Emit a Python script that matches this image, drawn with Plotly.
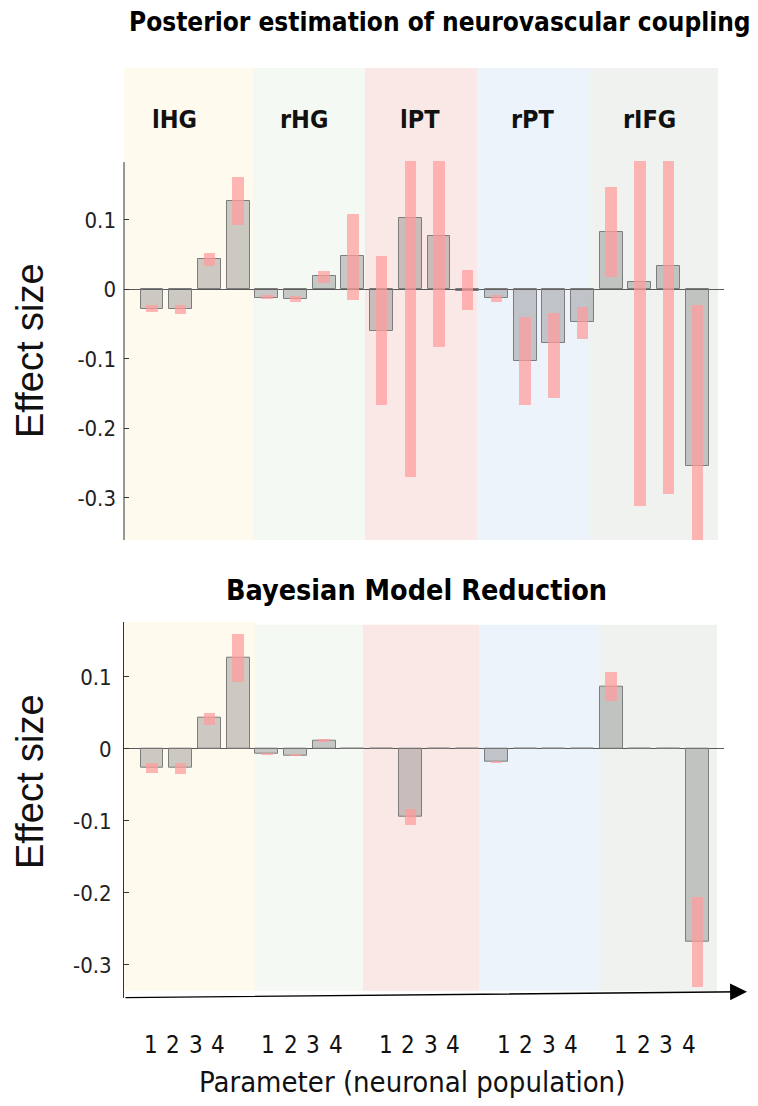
import plotly.graph_objects as go

# ---------------- data ----------------
regions = ["lHG", "rHG", "lPT", "rPT", "rIFG"]
param_labels = ["1", "2", "3", "4"]

# Posterior estimates (top) - bar heights and credible interval bounds
post_mean = [-0.028, -0.028, 0.043, 0.127,
             -0.012, -0.014, 0.019, 0.048,
             -0.060, 0.103, 0.077, -0.002,
             -0.013, -0.103, -0.077, -0.047,
             0.082, 0.010, 0.033, -0.254]
post_hi = [-0.023, -0.023, 0.052, 0.162,
           -0.008, -0.010, 0.026, 0.109,
           0.048, 0.184, 0.184, 0.028,
           -0.008, -0.040, -0.034, -0.025,
           0.147, 0.184, 0.184, -0.022]
post_lo = [-0.033, -0.035, 0.033, 0.093,
           -0.014, -0.018, 0.009, -0.015,
           -0.166, -0.270, -0.083, -0.030,
           -0.018, -0.167, -0.156, -0.071,
           0.018, -0.312, -0.294, -0.360]

# Bayesian model reduction (bottom)
bmr_mean = [-0.026, -0.026, 0.043, 0.127,
            -0.0065, -0.009, 0.012, 0.0,
            0.0, -0.0945, 0.0, 0.0,
            -0.018, 0.0, 0.0, 0.0,
            0.087, 0.0, 0.0, -0.268]
bmr_hi = [-0.019, -0.019, 0.050, 0.160,
          -0.005, -0.006, 0.014, 0.0,
          0.0, -0.083, 0.0, 0.0,
          -0.016, 0.0, 0.0, 0.0,
          0.107, 0.0, 0.0, -0.205]
bmr_lo = [-0.0325, -0.034, 0.034, 0.093,
          -0.008, -0.010, 0.010, 0.0,
          0.0, -0.105, 0.0, 0.0,
          -0.0195, 0.0, 0.0, 0.0,
          0.0675, 0.0, 0.0, -0.330]

y_ticks = [0.1, 0, -0.1, -0.2, -0.3]
y_tick_text = ["0.1", "0", "-0.1", "-0.2", "-0.3"]

region_colors = ["#FEFAEE", "#F5F9F3", "#FAE8E6", "#EDF3FA", "#EFF2EE"]

# ---------------- styling ----------------
NARROW = "DejaVu Sans Condensed, Liberation Sans Narrow, Arial Narrow, Liberation Sans"
REG = "Liberation Sans, Arial"
OFF = 8  # page body margin
W, H = 758 - OFF, 1106 - OFF
XR = [-0.976, 19.93]
TOP_YR = [-0.3607, 0.3184]
BOT_YR = [-0.3457, 0.1768]

def px(p):  # pixel column (screen) -> paper x
    return (p - OFF) / W

def py(p):  # pixel row (screen) -> paper y
    return 1 - (p - OFF) / H

x = list(range(len(post_mean)))
bar_fill = "rgba(110,110,110,0.35)"
bar_line = "rgb(125,125,125)"
ci_fill = "rgba(255,155,155,0.72)"

fig = go.Figure()

def add_panel(means, lo, hi, xa, ya):
    fig.add_trace(go.Bar(x=x, y=means, width=0.8, marker=dict(color=bar_fill,
                  line=dict(color=bar_line, width=1)), xaxis=xa, yaxis=ya,
                  showlegend=False, hoverinfo="skip"))
    fig.add_trace(go.Bar(x=x, y=[h - l for h, l in zip(hi, lo)], base=lo, width=0.4,
                  marker=dict(color=ci_fill, line=dict(width=0)), xaxis=xa, yaxis=ya,
                  showlegend=False, hoverinfo="skip"))

add_panel(post_mean, post_lo, post_hi, "x", "y")
add_panel(bmr_mean, bmr_lo, bmr_hi, "x2", "y2")

xdom = [px(124), px(724)]
common_x = dict(range=XR, showgrid=False, zeroline=False, showticklabels=False,
                ticks="", showline=False, fixedrange=True)
common_y = dict(showgrid=False, zeroline=True, zerolinecolor="#5a5a5a", zerolinewidth=1,
                tickvals=y_ticks, ticktext=y_tick_text, ticks="inside", ticklen=5,
                tickcolor="#333", tickfont=dict(family=NARROW, size=22, color="#222"),
                ticklabelstandoff=7)

fig.update_layout(
    width=W, height=H, margin=dict(l=0, r=0, t=0, b=0),
    paper_bgcolor="white", plot_bgcolor="rgba(0,0,0,0)",
    barmode="overlay", bargap=0,
    xaxis=dict(domain=xdom, anchor="y", **common_x),
    yaxis=dict(domain=[py(540), py(68)], range=TOP_YR, anchor="x", showline=False, **common_y),
    xaxis2=dict(domain=xdom, anchor="y2", **common_x),
    yaxis2=dict(domain=[py(997.7), py(621.7)], range=BOT_YR, anchor="x2", showline=True,
                linecolor="#333", linewidth=1, **common_y),
)

# region backgrounds
top_bounds = [-0.976, 3.519, 7.422, 11.324, 15.261, 19.721]
bot_bounds = [-0.976, 3.589, 7.352, 11.394, 15.61, 19.686]
shapes = []
for i, c in enumerate(region_colors):
    shapes.append(dict(type="rect", xref="x", yref="y", x0=top_bounds[i], x1=top_bounds[i + 1],
                       y0=TOP_YR[0], y1=TOP_YR[1], fillcolor=c, line=dict(width=0), layer="below"))
    shapes.append(dict(type="rect", xref="x2", yref="y2", x0=bot_bounds[i], x1=bot_bounds[i + 1],
                       y0=-0.336, y1=0.177 if i == 0 else 0.1726, fillcolor=c,
                       line=dict(width=0), layer="below"))
# top y-axis line (only over data range)
shapes.append(dict(type="line", xref="x domain", yref="y", x0=0, x1=0, y0=TOP_YR[0], y1=0.183,
                   line=dict(color="#333", width=1)))
fig.update_layout(shapes=shapes)

ann = []
def text(t, xx, yy, font, xref="paper", yref="paper", **kw):
    ann.append(dict(text=t, xref=xref, yref=yref, x=xx, y=yy, showarrow=False,
                    xanchor="center", yanchor="middle", font=font, **kw))

# titles
text("<b>Posterior estimation of neurovascular coupling</b>", px(440), py(22),
     dict(family=NARROW, size=26, color="black"))
text("<b>Bayesian Model Reduction</b>", px(416), py(590),
     dict(family=NARROW, size=28.5, color="black"))
# region labels
label_dx = [-0.7, -0.2, -0.16, -0.22, -0.18]
for g, name in enumerate(regions):
    text("<b>" + name + "</b>", 4 * g + 1.5 + label_dx[g], 0.2436,
         dict(family=NARROW, size=25, color="#111"), xref="x", yref="y")
# y-axis titles
for yc in (351, 782):
    text("Effect size", px(30), py(yc), dict(family=REG, size=38, color="#111"), textangle=-90)
# x tick labels 1..4 per region
for g in range(len(regions)):
    for k, lab in enumerate(param_labels):
        text(lab, -0.05 + 4.1 * g + 0.784 * k, py(1045),
             dict(family=NARROW, size=24, color="#111"), xref="x2")
# x-axis title
text("Parameter (neuronal population)", px(412), py(1082), dict(family=NARROW, size=29, color="#111"))
# slanted x-axis arrow
ann.append(dict(text="", xref="paper", yref="paper", x=px(747), y=py(991.7), axref="pixel", ayref="pixel",
                ax=-623, ay=6, showarrow=True, arrowhead=2, arrowsize=2.6, arrowwidth=1.3,
                arrowcolor="black", standoff=0))
fig.update_layout(annotations=ann)

fig.write_html("out.html")
